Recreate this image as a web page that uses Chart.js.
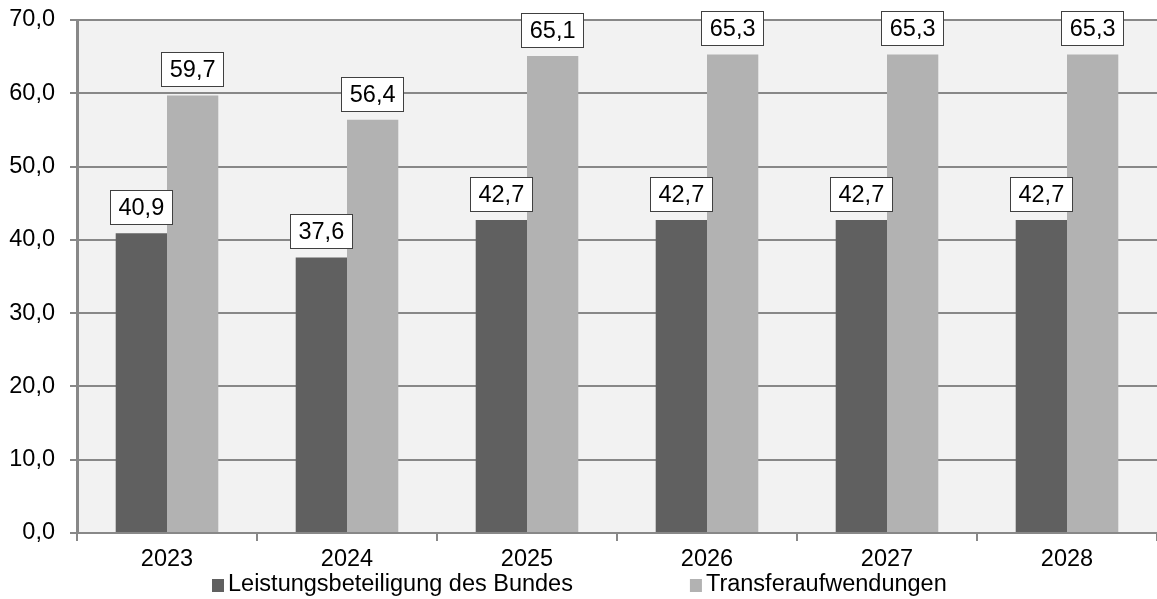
<!DOCTYPE html>
<html>
<head>
<meta charset="utf-8">
<script src="https://cdn.jsdelivr.net/npm/chart.js@4/dist/chart.umd.min.js"></script>
<style>
  html, body { margin: 0; padding: 0; background: #ffffff; }
  #wrap { width: 1157px; height: 599px; }
</style>
</head>
<body>
<div id="wrap"><canvas id="chart" width="1157" height="599"></canvas></div>
<script>
// Jahre (Kategorien)
const categories = ['2023', '2024', '2025', '2026', '2027', '2028'];
// Werte der beiden Reihen
const leistungsbeteiligung = [40.9, 37.6, 42.7, 42.7, 42.7, 42.7];
const transferaufwendungen = [59.7, 56.4, 65.1, 65.3, 65.3, 65.3];
// Reihennamen
const seriesNames = ['Leistungsbeteiligung des Bundes', 'Transferaufwendungen'];
// Achsenbereich
const yMin = 0, yMax = 70, yStep = 10;

const FONT = '"Liberation Sans", Arial, sans-serif';
const FONT_SIZE = 23.5;
const fmt = v => v.toFixed(1).replace('.', ',');

// Grauer Hintergrund der Zeichenfläche
const plotBackground = {
  id: 'plotBackground',
  beforeDraw(chart) {
    const { ctx, chartArea: a } = chart;
    ctx.save();
    ctx.fillStyle = '#f2f2f2';
    ctx.fillRect(a.left, a.top, a.right - a.left, a.bottom - a.top);
    ctx.restore();
  }
};

// Wertbeschriftungen in weißen Kästchen über den Säulen
const valueBoxes = {
  id: 'valueBoxes',
  afterDatasetsDraw(chart) {
    const ctx = chart.ctx;
    ctx.save();
    ctx.font = FONT_SIZE + 'px ' + FONT;
    ctx.textAlign = 'center';
    ctx.textBaseline = 'middle';
    chart.data.datasets.forEach((ds, di) => {
      const meta = chart.getDatasetMeta(di);
      meta.data.forEach((bar, i) => {
        const text = fmt(ds.data[i]);
        const w = Math.round(ctx.measureText(text).width + 17);
        const h = 35;
        const bottom = Math.round(bar.y - 8);
        const left = Math.round(bar.x - w / 2);
        const top = bottom - h;
        ctx.fillStyle = '#ffffff';
        ctx.fillRect(left, top, w, h);
        ctx.strokeStyle = '#404040';
        ctx.lineWidth = 1;
        ctx.strokeRect(left + 0.5, top + 0.5, w - 1, h - 1);
        ctx.fillStyle = '#000000';
        ctx.fillText(text, bar.x, top + h / 2 + 1);
      });
    });
    ctx.restore();
  }
};

// Legende unterhalb der Achsenbeschriftung
const bottomLegend = {
  id: 'bottomLegend',
  afterDraw(chart) {
    const ctx = chart.ctx;
    ctx.save();
    ctx.font = FONT_SIZE + 'px ' + FONT;
    ctx.textBaseline = 'middle';
    ctx.textAlign = 'left';
    const box = 12, gap = 4, spacing = 117;
    const items = chart.data.datasets.map(ds => ({
      label: ds.label, color: ds.backgroundColor,
      w: box + gap + ctx.measureText(ds.label).width
    }));
    const total = items.reduce((s, it) => s + it.w, 0) + spacing * (items.length - 1);
    let x = Math.round(chart.width / 2 + 1 - total / 2);
    const cy = 585;
    items.forEach(it => {
      ctx.fillStyle = it.color;
      ctx.fillRect(x, cy - 6, box, 13);
      ctx.fillStyle = '#000000';
      ctx.fillText(it.label, x + box + gap, cy);
      x += it.w + spacing;
    });
    ctx.restore();
  }
};

new Chart(document.getElementById('chart'), {
  type: 'bar',
  data: {
    labels: categories,
    datasets: [
      { label: seriesNames[0], data: leistungsbeteiligung, backgroundColor: '#606060',
        categoryPercentage: 0.57, barPercentage: 1.0 },
      { label: seriesNames[1], data: transferaufwendungen, backgroundColor: '#b2b2b2',
        categoryPercentage: 0.57, barPercentage: 1.0 }
    ]
  },
  options: {
    responsive: false,
    animation: false,
    layout: { padding: { top: 20, right: -3, left: 0, bottom: 0 } },
    plugins: {
      legend: { display: false },
      tooltip: { enabled: false },
      title: { display: false }
    },
    scales: {
      x: {
        afterFit(scale) { scale.height = 66; scale.paddingLeft = 0; scale.paddingRight = 0; },
        grid: { drawOnChartArea: false, drawTicks: true, tickLength: 8, color: '#888888', lineWidth: 2, offset: true },
        border: { color: '#888888', width: 2 },
        ticks: { color: '#000000', padding: 4, font: { family: FONT, size: FONT_SIZE } }
      },
      y: {
        min: yMin, max: yMax,
        afterFit(scale) { scale.width = 77; scale.paddingTop = 0; scale.paddingBottom = 0; },
        grid: { color: '#888888', lineWidth: 2, tickLength: 7 },
        border: { color: '#888888', width: 3 },
        ticks: {
          stepSize: yStep, color: '#000000', padding: 15,
          font: { family: FONT, size: FONT_SIZE },
          callback: v => fmt(v)
        }
      }
    }
  },
  plugins: [plotBackground, valueBoxes, bottomLegend]
});
</script>
</body>
</html>
